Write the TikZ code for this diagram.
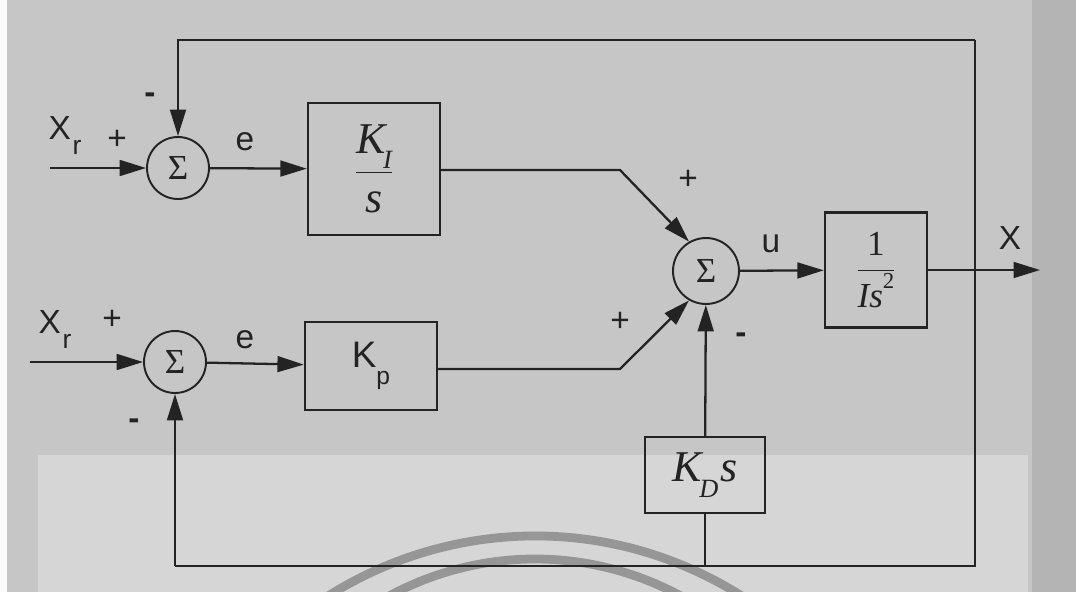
\documentclass[tikz,border=0pt]{standalone}
\usepackage{fontspec}
\setmainfont{Liberation Sans}
\newfontfamily\tms{Liberation Serif}
\usetikzlibrary{arrows.meta}
\definecolor{bg}{RGB}{198,198,198}
\definecolor{bgl}{RGB}{214,214,214}
\definecolor{bgd}{RGB}{180,180,180}
\definecolor{ink}{RGB}{35,35,35}
\definecolor{arcc}{RGB}{150,150,150}
\tikzset{
  sumnode/.style={circle,draw=ink,line width=1.1pt,minimum size=1.24cm,inner sep=0pt,font=\tms\fontsize{20}{20}\selectfont,text=ink},
  blk/.style={rectangle,draw=ink,line width=1.4pt,inner sep=0pt,text=ink},
  lbl/.style={text=ink,inner sep=0pt,font=\fontsize{19}{19}\selectfont},
  sig/.style={draw=ink,line width=1.3pt},
  arr/.style={sig,-{Triangle[length=15pt,width=9pt]}}
}
\begin{document}
\begin{tikzpicture}[x=0.02cm,y=-0.02cm]
\useasboundingbox (0,0) rectangle (1076,592);
% background (scanned page)
\fill[bg] (0,0) rectangle (1076,592);
\fill[bgd] (1032,0) rectangle (1076,592);
\fill[white!92!bg] (0,0) rectangle (7,592);
\fill[bgl] (38,455) rectangle (1028,592);
\begin{scope}
\clip (0,0) rectangle (1076,592);
\draw[arcc,line width=5pt] (535,922) ++(210:386) arc[start angle=210,end angle=330,radius=386];
\draw[arcc,line width=5pt] (535,865) ++(215:306) arc[start angle=215,end angle=325,radius=306];
\end{scope}

% summing junctions
\node[sumnode] (s1) at (178,168) {Σ};
\node[sumnode] (s2) at (175,362) {Σ};
\node[sumnode,minimum size=1.32cm] (s3) at (706,271) {Σ};

% blocks
\node[blk,minimum width=2.64cm,minimum height=2.64cm,font=\tms\itshape\fontsize{25}{25}\selectfont] (ki) at (374,169)
  {$\displaystyle\frac{\hbox{K\kern-0.05em\raisebox{-0.35em}{\fontsize{15}{15}\selectfont I}}}{\hbox{s}}$};
\node[blk,minimum width=2.64cm,minimum height=1.76cm,font=\fontsize{21}{21}\selectfont] (kp) at (371,366)
  {K\raisebox{-0.45em}{\fontsize{14}{14}\selectfont p}};
\node[blk,minimum width=2.04cm,minimum height=2.3cm,font=\tms\itshape\fontsize{20}{20}\selectfont] (g) at (876,270)
  {$\displaystyle\frac{\hbox{\upshape 1}}{\hbox{Is\raisebox{0.55em}{\upshape\fontsize{13}{13}\selectfont 2}}}$};
\node[blk,minimum width=2.4cm,minimum height=1.52cm,font=\tms\itshape\fontsize{25}{25}\selectfont] (kd) at (705,475)
  {K\kern-0.05em\raisebox{-0.35em}{\fontsize{15}{15}\selectfont D}\kern0.05em s};

% coordinates
\coordinate (in1) at (50,168);
\coordinate (in2) at (30,362);
\coordinate (fbT) at (975,40);
\coordinate (fbB) at (975,566);
\coordinate (kdB) at (705,566);
\coordinate (s2B) at (175,566);
\coordinate (s1T) at (178,40);
\coordinate (out) at (1040,270);
\coordinate (b1) at (620,170);
\coordinate (b2) at (620,369);

% connectors
\draw[arr] (in1) -- (s1);
\draw[arr] (in2) -- (s2);
\draw[arr] (s1) -- (ki);
\draw[arr] (s2) -- (kp);
\draw[arr] (ki.east |- b1) -- (b1) -- (s3.120);
\draw[arr] (kp.east |- b2) -- (b2) -- (s3.240);
\draw[arr] (s3) -- (g);
\draw[arr] (g) -- (out);
\draw[sig] (fbT) -- (fbB) -- (kdB) -- (s2B);
\draw[arr] (fbT) -- (s1T) -- (s1);
\draw[arr] (s2B) -- (s2);
\draw[sig] (kdB) -- (kd);
\draw[arr] (kd) -- (s3);

% labels
\node[lbl] at (65,136) {X\kern0.05em\raisebox{-0.45em}{\fontsize{15}{15}\selectfont r}};
\node[lbl] at (117,140) {+};
\node[lbl,font=\bfseries\fontsize{19}{19}\selectfont] at (150,98) {-};
\node[lbl] at (245,142) {e};
\node[lbl] at (55,330) {X\kern0.05em\raisebox{-0.45em}{\fontsize{15}{15}\selectfont r}};
\node[lbl] at (112,320) {+};
\node[lbl,font=\bfseries\fontsize{19}{19}\selectfont] at (134,424) {-};
\node[lbl] at (245,340) {e};
\node[lbl] at (688,180) {+};
\node[lbl] at (620,322) {+};
\node[lbl,font=\bfseries\fontsize{19}{19}\selectfont] at (741,338) {-};
\node[lbl] at (771,244) {u};
\node[lbl] at (1010,238) {X};
\end{tikzpicture}
\end{document}
